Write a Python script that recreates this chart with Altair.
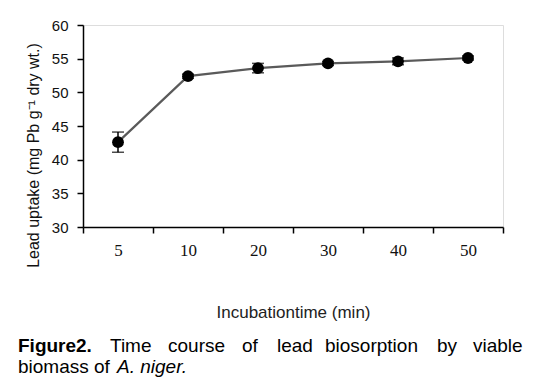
import altair as alt
import pandas as pd

# Data
times = ["5", "10", "20", "30", "40", "50"]
uptake = [42.6, 52.4, 53.6, 54.3, 54.6, 55.1]
err = [1.5, 0.3, 0.7, 0.3, 0.5, 0.3]
y_ticks = [30, 35, 40, 45, 50, 55, 60]

df = pd.DataFrame({
    "time": times,
    "uptake": uptake,
    "lo": [u - e for u, e in zip(uptake, err)],
    "hi": [u + e for u, e in zip(uptake, err)],
})

W, H = 420, 202

xscale = alt.Scale(type="band", domain=times, paddingInner=0, paddingOuter=0)
x_axis = alt.Axis(
    title="Incubationtime (min)", labelAngle=0, tickBand="extent",
    labelFont="Liberation Serif", labelFontSize=17, labelColor="#111",
    labelPadding=9, tickSize=6, tickColor="black", domainColor="black",
    domainWidth=1.5, tickWidth=1.5,
    titleFont="Arial", titleFontSize=17, titleFontWeight="normal",
    titleColor="#222", titleY=85, titleBaseline="middle", grid=False,
)
x_enc = alt.X("time:N", scale=xscale, sort=times, axis=x_axis)

yscale = alt.Scale(domain=[30, 60], nice=False, zero=False)
y_axis = alt.Axis(
    title="Lead uptake (mg Pb g⁻¹ dry wt.)", values=y_ticks,
    labelFont="Arial", labelFontSize=15, labelColor="#111", labelPadding=9,
    tickSize=6, tickColor="black", tickWidth=1.5, domainColor="black",
    domainWidth=1.5, grid=False,
    titleFont="Arial", titleFontSize=16, titleFontWeight="normal",
    titleColor="#111", titleX=-50, titleY=130, titleBaseline="middle",
    titleAngle=-90,
)
y_enc = alt.Y("uptake:Q", scale=yscale, axis=y_axis)
y_lo = alt.Y("lo:Q", scale=yscale, axis=y_axis)
y_hi = alt.Y("hi:Q", scale=yscale, axis=y_axis)

base = alt.Chart(df)

line = base.mark_line(color="#5a5a5a", strokeWidth=2.2).encode(x=x_enc, y=y_enc)
rule = base.mark_rule(color="black", strokeWidth=1.5).encode(
    x=x_enc, y=y_lo, y2="hi:Q")
cap_lo = base.mark_tick(color="black", orient="horizontal", size=12, thickness=1.5).encode(
    x=x_enc, y=y_lo)
cap_hi = base.mark_tick(color="black", orient="horizontal", size=12, thickness=1.5).encode(
    x=x_enc, y=y_hi)
pts = base.mark_point(filled=True, color="black", size=140, opacity=1).encode(x=x_enc, y=y_enc)

one = pd.DataFrame({"a": [0]})


def cap_text(txt, x, y, weight="normal", style="normal"):
    return alt.Chart(one).mark_text(
        font="Arial", fontSize=19, fontWeight=weight, fontStyle=style,
        align="left", baseline="alphabetic", color="black",
    ).encode(x=alt.value(x), y=alt.value(y), text=alt.value(txt))


y1, y2 = 327, 348
caption = [
    cap_text("Figure2.", -65, y1, weight="bold"),
    cap_text("Time", 27, y1),
    cap_text("course", 85, y1),
    cap_text("of", 159, y1),
    cap_text("lead", 194, y1),
    cap_text("biosorption", 242, y1),
    cap_text("by", 354, y1),
    cap_text("viable", 390, y1),
    cap_text("biomass of", -65, y2),
    cap_text("A. niger.", 34, y2, style="italic"),
]

chart = alt.layer(
    line, rule, cap_lo, cap_hi, pts, *caption
).properties(
    width=W, height=H,
    autosize=alt.AutoSizeParams(type="none"),
    padding={"left": 75, "top": 17, "right": 29, "bottom": 151},
).configure_view(
    stroke="black", strokeWidth=1.5
).configure(background="white")

chart.save("out.html", embed_options={"renderer": "svg", "actions": False})
